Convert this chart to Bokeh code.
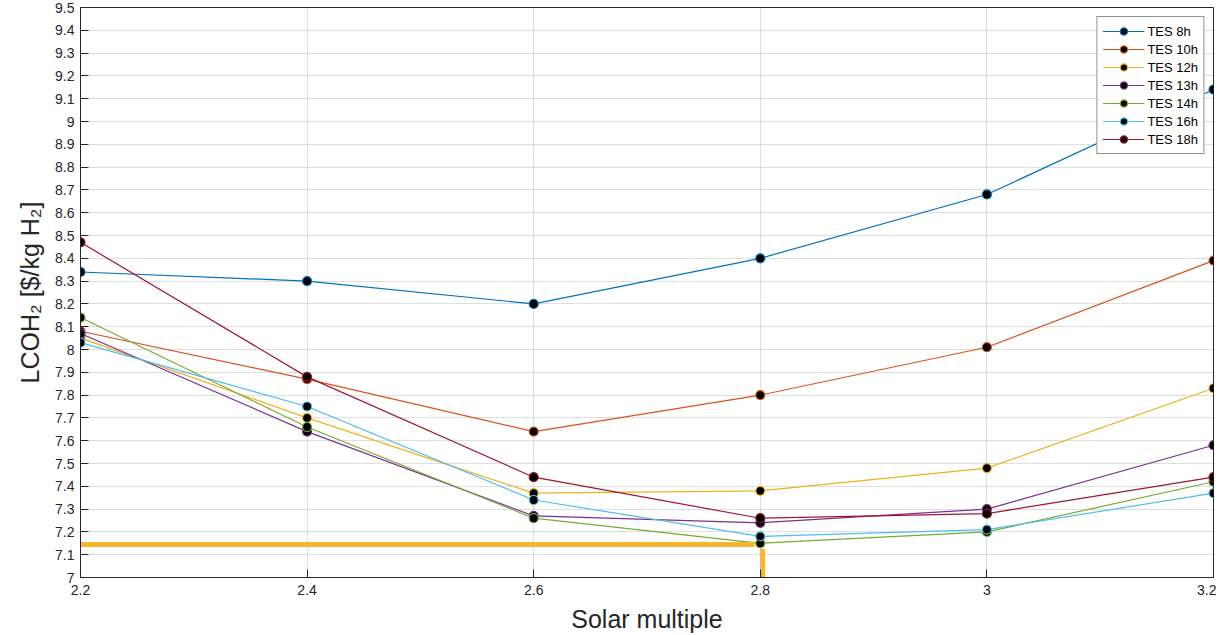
from bokeh.plotting import figure
from bokeh.models import FixedTicker, Range1d, Legend
from bokeh.embed import file_html
from bokeh.resources import INLINE

solar_multiple = [2.2, 2.4, 2.6, 2.8, 3.0, 3.2]
tes_8h = [8.34, 8.30, 8.20, 8.40, 8.68, 9.14]
tes_10h = [8.08, 7.87, 7.64, 7.80, 8.01, 8.39]
tes_12h = [8.05, 7.70, 7.37, 7.38, 7.48, 7.83]
tes_13h = [8.07, 7.64, 7.27, 7.24, 7.30, 7.58]
tes_14h = [8.14, 7.66, 7.26, 7.15, 7.20, 7.42]
tes_16h = [8.03, 7.75, 7.34, 7.18, 7.21, 7.37]
tes_18h = [8.47, 7.88, 7.44, 7.26, 7.28, 7.44]

series_names = ["TES 8h", "TES 10h", "TES 12h", "TES 13h", "TES 14h", "TES 16h", "TES 18h"]
series_values = [tes_8h, tes_10h, tes_12h, tes_13h, tes_14h, tes_16h, tes_18h]
colors = ["#0072BD", "#D95319", "#EDB120", "#7E2F8E", "#77AC30", "#4DBEEE", "#A2142F"]

x_ticks = [2.2, 2.4, 2.6, 2.8, 3.0, 3.2]
x_tick_labels = ["2.2", "2.4", "2.6", "2.8", "3", "3.2"]
y_ticks = [7.0, 7.1, 7.2, 7.3, 7.4, 7.5, 7.6, 7.7, 7.8, 7.9, 8.0, 8.1, 8.2, 8.3, 8.4,
           8.5, 8.6, 8.7, 8.8, 8.9, 9.0, 9.1, 9.2, 9.3, 9.4, 9.5]
y_tick_labels = ["7", "7.1", "7.2", "7.3", "7.4", "7.5", "7.6", "7.7", "7.8", "7.9", "8",
                 "8.1", "8.2", "8.3", "8.4", "8.5", "8.6", "8.7", "8.8", "8.9", "9",
                 "9.1", "9.2", "9.3", "9.4", "9.5"]

# annotation (minimum marker) values
min_level = 7.145
min_sm = 2.802
hline_x = [2.19, 2.795]
vline_y = [7.125, 6.98]

FONT = "Liberation Sans"

p = figure(width=1216, height=635, output_backend="svg", toolbar_location=None,
           x_range=Range1d(2.2, 3.2), y_range=Range1d(7.0, 9.5),
           min_border_left=80, min_border_right=3, min_border_top=7, min_border_bottom=50)

p.outline_line_color = "#262626"
p.outline_line_width = 1
p.background_fill_color = "white"
p.border_fill_color = "white"

for ax in (p.xaxis[0], p.yaxis[0]):
    ax.axis_line_color = "#262626"
    ax.major_tick_line_color = "#262626"
    ax.major_tick_in = 8
    ax.major_tick_out = 0
    ax.minor_tick_line_color = None
    ax.major_label_text_font = FONT
    ax.major_label_text_font_size = "14px"
    ax.major_label_text_color = "#262626"
    ax.axis_label_text_font = FONT
    ax.axis_label_text_font_size = "25px"
    ax.axis_label_text_font_style = "normal"
    ax.axis_label_text_color = "#262626"

p.xaxis[0].ticker = FixedTicker(ticks=x_ticks)
p.xaxis[0].major_label_overrides = dict(zip(x_ticks, x_tick_labels))
p.xaxis[0].axis_label = "Solar multiple"
p.xaxis[0].major_label_standoff = 7
p.xaxis[0].axis_label_standoff = 7

p.yaxis[0].ticker = FixedTicker(ticks=y_ticks)
p.yaxis[0].major_label_overrides = dict(zip(y_ticks, y_tick_labels))
p.yaxis[0].axis_label = "LCOH₂ [$/kg H₂]"
p.yaxis[0].major_label_standoff = 6
p.yaxis[0].axis_label_standoff = 8

p.xgrid.ticker = FixedTicker(ticks=x_ticks)
p.ygrid.ticker = FixedTicker(ticks=y_ticks)
p.xgrid.grid_line_color = "#262626"
p.ygrid.grid_line_color = "#262626"
p.xgrid.grid_line_alpha = 0.15
p.ygrid.grid_line_alpha = 0.15

legend_items = []
for name, vals, c in zip(series_names, series_values, colors):
    l = p.line(solar_multiple, vals, line_color=c, line_width=1.2)
    s = p.scatter(solar_multiple, vals, size=9, fill_color="black", line_color=c, line_width=1.2)
    legend_items.append((name, [l, s]))

# annotation lines
p.line(hline_x, [min_level, min_level], line_color="#F6B72B", line_width=5)
p.line([min_sm, min_sm], vline_y, line_color="#F6B72B", line_width=5)

legend = Legend(items=legend_items, location="top_right")
legend.label_text_font = FONT
legend.label_text_font_size = "13px"
legend.label_text_color = "#000000"
legend.glyph_width = 42
legend.glyph_height = 18
legend.label_height = 18
legend.spacing = 0
legend.padding = 5
legend.margin = 9
legend.label_standoff = 3
legend.border_line_color = "#262626"
legend.border_line_width = 1
legend.background_fill_alpha = 1
p.add_layout(legend, "center")

open("out.html", "w").write(file_html(p, INLINE))
